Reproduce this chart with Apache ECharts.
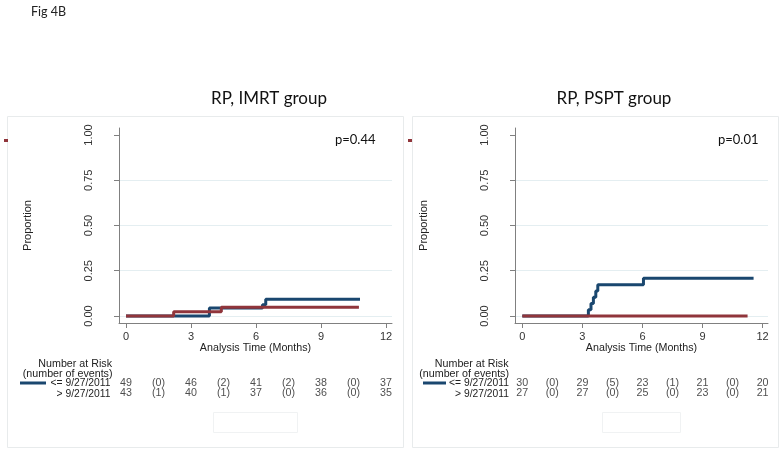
<!DOCTYPE html>
<html>
<head>
<meta charset="utf-8">
<script src="https://cdn.jsdelivr.net/npm/echarts@6/dist/echarts.min.js"></script>
<style>
html,body{margin:0;padding:0;background:#fff;}
#c{width:783px;height:452px;}
</style>
</head>
<body>
<div id="c"></div>
<script>
// ---------- data ----------
const panelTitles = ['RP, IMRT group', 'RP, PSPT group'];
const pValues = ['p=0.44', 'p=0.01'];
const xTicks = [0, 3, 6, 9, 12];
const yTicks = [0, 0.25, 0.5, 0.75, 1];
const groupLabels = ['<= 9/27/2011', '> 9/27/2011'];

// Left panel (IMRT) step curves
const imrtEarlyTimes = [0, 3.85, 6.3, 6.45, 10.8];
const imrtEarlyProp  = [0, 0.0435, 0.062, 0.092, 0.092];
const imrtLateTimes  = [0, 2.2, 4.4, 10.75];
const imrtLateProp   = [0, 0.023, 0.048, 0.048];

// Right panel (PSPT) step curves
const psptEarlyTimes = [0, 3.3, 3.43, 3.55, 3.67, 3.77, 6.05, 11.55];
const psptEarlyProp  = [0, 0.034, 0.069, 0.103, 0.138, 0.172, 0.208, 0.208];
const psptLateTimes  = [0, 11.25];
const psptLateProp   = [0, 0];

// Number at risk (at 0,3,6,9,12) and events in each interval
const riskTimes = [0, 3, 6, 9, 12];
const imrtEarlyRisk = [49, 46, 41, 38, 37];
const imrtEarlyEvents = [0, 2, 2, 0];
const imrtLateRisk = [43, 40, 37, 36, 35];
const imrtLateEvents = [1, 1, 0, 0];
const psptEarlyRisk = [30, 29, 23, 21, 20];
const psptEarlyEvents = [0, 5, 1, 0];
const psptLateRisk = [27, 27, 25, 23, 21];
const psptLateEvents = [0, 0, 0, 0];

// ---------- helpers ----------
const BLUE = '#1a476f', RED = '#90353b';
const TXT = 'Liberation Sans, Arial, sans-serif';
const CAL = 'Lato, Carlito, Calibri, sans-serif';
const ROW_Y = [-0.370, -0.4254];

function pairs(xs, ys) { return xs.map((x, i) => [x, ys[i]]); }
function riskRow(risk, events, y) {
  const out = [];
  risk.forEach((r, i) => {
    out.push([riskTimes[i], y, String(r)]);
    if (i < events.length) out.push([(riskTimes[i] + riskTimes[i + 1]) / 2, y, '(' + events[i] + ')']);
  });
  return out;
}

const chart = echarts.init(document.getElementById('c'), null, {renderer: 'canvas'});

function xAxisCfg(idx, min, max) {
  return {
    gridIndex: idx, type: 'value', min: min, max: max,
    name: 'Analysis Time (Months)', nameLocation: 'middle', nameGap: 19,
    nameTextStyle: {fontFamily: TXT, fontSize: 10.7, color: '#222'},
    axisLine: {show: true, onZero: false, lineStyle: {color: '#808080', width: 1}},
    axisTick: {show: true, length: 5, customValues: xTicks, lineStyle: {color: '#808080'}},
    axisLabel: {customValues: xTicks, margin: 8, fontFamily: TXT, fontSize: 11, color: '#333'},
    splitLine: {show: false}
  };
}
function yAxisCfg(idx) {
  return {
    gridIndex: idx, type: 'value', min: -0.0387, max: 1.0387,
    name: 'Proportion', nameLocation: 'middle', nameGap: 86, nameRotate: 90,
    nameTextStyle: {fontFamily: TXT, fontSize: 11, color: '#222'},
    axisLine: {show: true, onZero: false, lineStyle: {color: '#808080', width: 1}},
    axisTick: {show: true, length: 5, customValues: yTicks, lineStyle: {color: '#808080'}},
    axisLabel: {customValues: yTicks, rotate: 90, margin: 25, fontFamily: TXT, fontSize: 11, color: '#333',
      formatter: v => v.toFixed(2)},
    splitLine: {show: false}
  };
}
function gridSeries(idx) {
  return {
    type: 'line', xAxisIndex: idx, yAxisIndex: idx, data: [], z: 0, silent: true,
    markLine: {silent: true, z: 0, symbol: 'none', label: {show: false}, animation: false,
      lineStyle: {color: '#e4eef1', width: 1, type: 'solid'},
      data: yTicks.filter(v => v < 1).map(v => ({yAxis: v}))}
  };
}
function stepSeries(idx, xs, ys, color, z) {
  return {
    type: 'line', xAxisIndex: idx, yAxisIndex: idx, step: 'end', data: pairs(xs, ys),
    showSymbol: false, symbol: 'none', z: z, animation: false,
    lineStyle: {color: color, width: 3}
  };
}
function riskSeries(idx, data) {
  return {
    type: 'scatter', xAxisIndex: idx, yAxisIndex: idx, data: data, symbolSize: 0, clip: false,
    animation: false, silent: true,
    label: {show: true, position: 'inside', formatter: p => p.value[2],
      fontFamily: TXT, fontSize: 10.7, color: '#222'}
  };
}
function txt(x, y, text, opts) {
  return Object.assign({type: 'text', x: x, y: y, silent: true,
    style: Object.assign({text: text, fill: '#222', font: '10.7px ' + TXT, textVerticalAlign: 'middle'}, opts || {})});
}

const option = {
  backgroundColor: '#fff',
  animation: false,
  grid: [
    {left: 119, top: 128, width: 273, height: 195},
    {left: 515, top: 128, width: 253, height: 195}
  ],
  xAxis: [xAxisCfg(0, -0.323, 12.277), xAxisCfg(1, -0.365, 12.27)],
  yAxis: [yAxisCfg(0), yAxisCfg(1)],
  series: [
    gridSeries(0), gridSeries(1),
    stepSeries(0, imrtEarlyTimes, imrtEarlyProp, BLUE, 6),
    stepSeries(0, imrtLateTimes, imrtLateProp, RED, 7),
    stepSeries(1, psptEarlyTimes, psptEarlyProp, BLUE, 6),
    stepSeries(1, psptLateTimes, psptLateProp, RED, 7),
    riskSeries(0, riskRow(imrtEarlyRisk, imrtEarlyEvents, ROW_Y[0]).concat(riskRow(imrtLateRisk, imrtLateEvents, ROW_Y[1]))),
    riskSeries(1, riskRow(psptEarlyRisk, psptEarlyEvents, ROW_Y[0]).concat(riskRow(psptLateRisk, psptLateEvents, ROW_Y[1])))
  ],
  graphic: [
    // panel frames
    {type: 'rect', shape: {x: 7.5, y: 116.5, width: 396, height: 331}, style: {fill: 'none', stroke: '#e8ebec', lineWidth: 1}, silent: true, z: -1},
    {type: 'rect', shape: {x: 412.5, y: 116.5, width: 366, height: 331}, style: {fill: 'none', stroke: '#e8ebec', lineWidth: 1}, silent: true, z: -1},
    // small empty boxes below tables
    {type: 'rect', shape: {x: 213.5, y: 412.5, width: 84, height: 20}, style: {fill: 'none', stroke: '#f0f2f3', lineWidth: 1}, silent: true},
    {type: 'rect', shape: {x: 602.5, y: 412.5, width: 78, height: 20}, style: {fill: 'none', stroke: '#f0f2f3', lineWidth: 1}, silent: true},
    // small red legend remnants
    {type: 'rect', shape: {x: 4, y: 139, width: 4, height: 3}, style: {fill: RED}, silent: true},
    {type: 'rect', shape: {x: 408, y: 139, width: 4, height: 3}, style: {fill: RED}, silent: true},
    // fig label
    txt(31, 12, 'Fig 4B', {font: '12.5px ' + CAL, fill: '#222'}),
    // titles
    txt(269, 99, panelTitles[0], {font: '17px ' + CAL, fill: '#111', textAlign: 'center'}),
    txt(614, 99, panelTitles[1], {font: '17px ' + CAL, fill: '#111', textAlign: 'center'}),
    // p-values
    txt(335, 140, pValues[0], {font: '13px ' + CAL, fill: '#111'}),
    txt(718, 140, pValues[1], {font: '13px ' + CAL, fill: '#111'}),
    // risk table headers
    txt(112, 364, 'Number at Risk', {textAlign: 'right'}),
    txt(112.5, 374.5, '(number of events)', {textAlign: 'right'}),
    txt(110.5, 383.5, groupLabels[0], {textAlign: 'right', font: '10.3px ' + TXT}),
    txt(110.5, 394, groupLabels[1], {textAlign: 'right', font: '10.3px ' + TXT}),
    txt(508.5, 364, 'Number at Risk', {textAlign: 'right'}),
    txt(509, 374.5, '(number of events)', {textAlign: 'right'}),
    txt(509, 383.5, groupLabels[0], {textAlign: 'right', font: '10.3px ' + TXT}),
    txt(509, 394, groupLabels[1], {textAlign: 'right', font: '10.3px ' + TXT}),
    // legend sample lines
    {type: 'line', shape: {x1: 20, y1: 383, x2: 46, y2: 383}, style: {stroke: BLUE, lineWidth: 3}, silent: true},
    {type: 'line', shape: {x1: 423, y1: 383, x2: 446, y2: 383}, style: {stroke: BLUE, lineWidth: 3}, silent: true}
  ]
};
chart.setOption(option);
</script>
</body>
</html>
